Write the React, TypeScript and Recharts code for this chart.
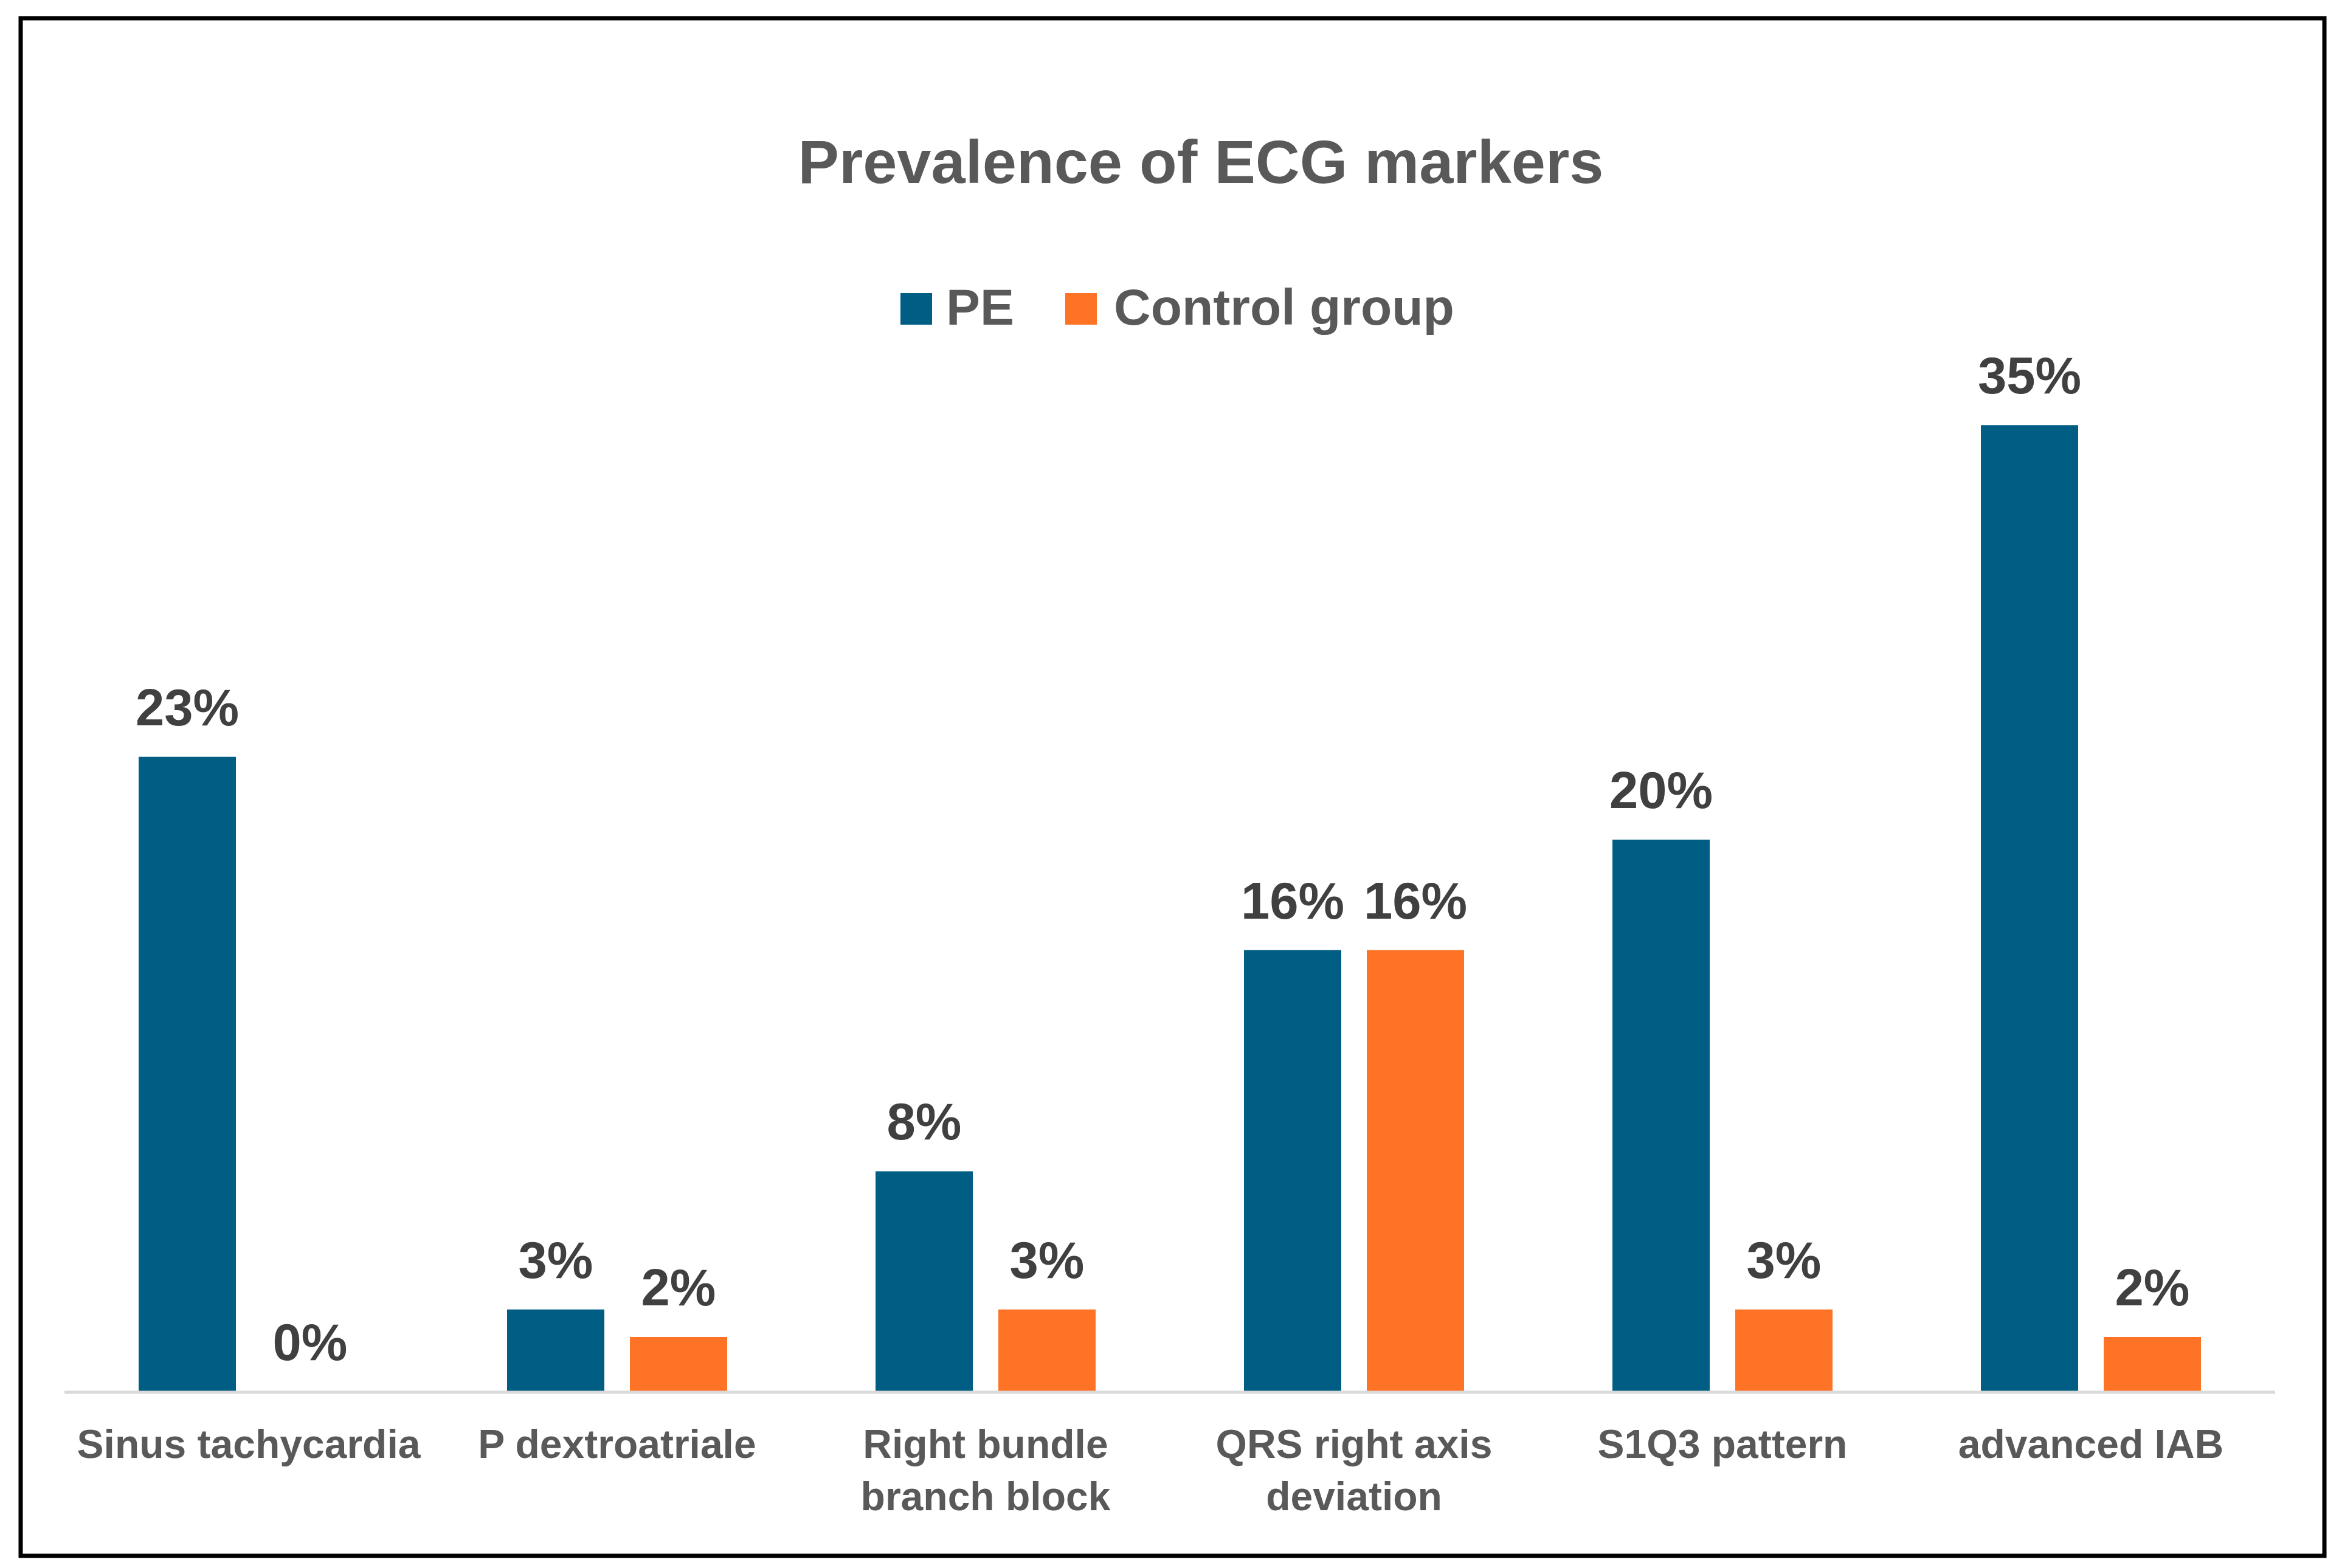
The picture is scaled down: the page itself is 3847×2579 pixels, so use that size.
import React from 'react';
import { BarChart, Bar, XAxis, YAxis, LabelList, Cell } from 'recharts';

const categoryLines = [
    ['Sinus tachycardia'],
    ['P dextroatriale'],
    ['Right bundle', 'branch block'],
    ['QRS right axis', 'deviation'],
    ['S1Q3 pattern'],
    ['advanced IAB'],
];
const categories = categoryLines.map((l) => l.join(' '));
const peValues = [23, 3, 8, 16, 20, 35];
const controlValues = [0, 2, 3, 16, 3, 2];
const seriesNames = ['PE', 'Control group'];

const PE_COLOR = '#005E84';
const CONTROL_COLOR = '#FF7326';
const FONT = '"Liberation Sans", Arial, sans-serif';

const data = categories.map((name, i) => ({
    name,
    pe: peValues[i],
    control: controlValues[i],
}));

const CategoryTick = (props: any) => {
    const { x, y, payload } = props;
    const idx = categories.indexOf(payload.value);
    const lines = idx >= 0 ? categoryLines[idx] : [String(payload.value)];
    return (
        <text
            x={x}
            y={y + 100}
            textAnchor="middle"
            fontSize={66}
            fontWeight="bold"
            fontFamily={FONT}
            fill="#595959"
        >
            {lines.map((line, i) => (
                <tspan key={i} x={x} dy={i === 0 ? 0 : 86}>
                    {line}
                </tspan>
            ))}
        </text>
    );
};

const labelProps = {
    position: 'top' as const,
    offset: 52,
    formatter: (v: any) => `${v}%`,
    fill: '#404040',
    fontSize: 85,
    fontWeight: 'bold',
    fontFamily: FONT,
};

const App: React.FC = () => {
    return (
        <div style={{ position: 'absolute', left: 0, top: 0, width: 3847, height: 2579, background: '#fff' }}>
            {/* frame, title and legend */}
            <svg width={3847} height={2579} style={{ position: 'absolute', left: 0, top: 0 }}>
                <rect x={34} y={30} width={3789} height={2529} fill="none" stroke="#000" strokeWidth={7} />
                <text x={1975} y={301} textAnchor="middle" fontSize={101} fontWeight="bold" fontFamily={FONT} fill="#595959">
                    Prevalence of ECG markers
                </text>
                <rect x={1481} y={482} width={52} height={52} fill={PE_COLOR} />
                <text x={1556} y={534} fontSize={84} fontWeight="bold" fontFamily={FONT} fill="#595959">
                    {seriesNames[0]}
                </text>
                <rect x={1752} y={482} width={52} height={52} fill={CONTROL_COLOR} />
                <text x={1832} y={534} fontSize={84} fontWeight="bold" fontFamily={FONT} fill="#595959">
                    {seriesNames[1]}
                </text>
            </svg>
            <div style={{ position: 'absolute', left: 0, top: 0 }}>
                <BarChart
                    width={3847}
                    height={2579}
                    data={data}
                    margin={{ top: 472, right: 105, left: 106, bottom: 89 }}
                    barSize={160}
                    barGap={42}
                >
                    <XAxis
                        dataKey="name"
                        height={200}
                        interval={0}
                        tickLine={false}
                        axisLine={{ stroke: '#D9D9D9', strokeWidth: 5 }}
                        tick={<CategoryTick />}
                    />
                    <YAxis hide domain={[0, 40]} />
                    <Bar dataKey="pe" name={seriesNames[0]} fill={PE_COLOR} isAnimationActive={false}>
                        <LabelList dataKey="pe" {...labelProps} />
                    </Bar>
                    <Bar
                        dataKey="control"
                        name={seriesNames[1]}
                        fill={CONTROL_COLOR}
                        minPointSize={1}
                        isAnimationActive={false}
                    >
                        {controlValues.map((v, i) => (
                            <Cell key={i} fill={v === 0 ? 'none' : CONTROL_COLOR} />
                        ))}
                        <LabelList dataKey="control" {...labelProps} />
                    </Bar>
                </BarChart>
            </div>
        </div>
    );
};

export default App;
